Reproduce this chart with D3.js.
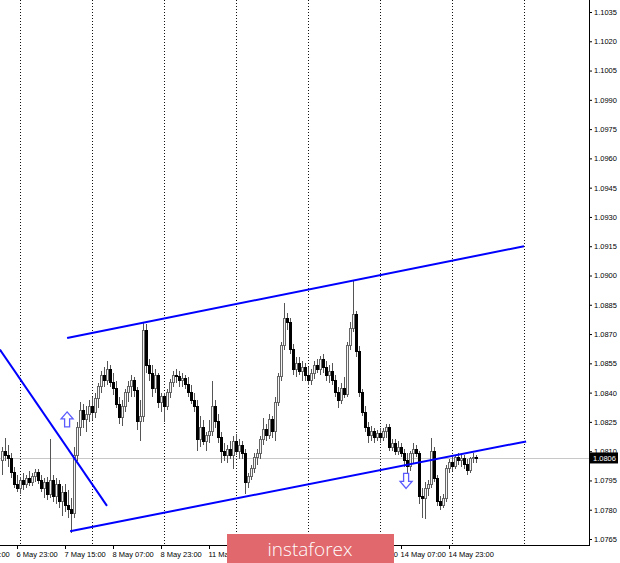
<!DOCTYPE html>
<html><head><meta charset="utf-8">
<script src="https://cdn.jsdelivr.net/npm/d3@7"></script>
<style>body{margin:0;background:#fff}svg{display:block}</style>
</head><body>
<svg id="c" width="620" height="563"></svg>
<script>
// EURUSD H1 bars, starting 6 May 18:00
const opens = [
1.0805,1.0810,1.0808,1.0806,1.0799,1.0793,1.0791,1.0795,1.0793,1.0796,
1.0794,1.0797,1.0799,1.0795,1.0791,1.0794,1.0788,1.0795,1.0787,1.0793,
1.0784,1.0789,1.0782,1.0780,1.0778,1.0808,1.0822,1.0831,1.0826,1.0829,
1.0833,1.0830,1.0837,1.0843,1.0849,1.0846,1.0852,1.0845,1.0842,1.0834,
1.0827,1.0833,1.0840,1.0843,1.0846,1.0841,1.0825,1.0828,1.0872,1.0854,
1.0850,1.0842,1.0849,1.0835,1.0838,1.0833,1.0840,1.0845,1.0849,1.0848,
1.0846,1.0847,1.0844,1.0840,1.0836,1.0833,1.0816,1.0822,1.0815,1.0818,
1.0820,1.0833,1.0825,1.0817,1.0810,1.0808,1.0811,1.0808,1.0815,1.0810,
1.0813,1.0809,1.0794,1.0797,1.0801,1.0807,1.0809,1.0816,1.0821,1.0818,
1.0826,1.0820,1.0835,1.0848,1.0864,1.0878,1.0876,1.0862,1.0852,1.0855,
1.0851,1.0853,1.0849,1.0846,1.0850,1.0854,1.0852,1.0857,1.0853,1.0849,
1.0851,1.0846,1.0840,1.0836,1.0842,1.0839,1.0864,1.0873,1.0880,1.0861,
1.0840,1.0830,1.0822,1.0818,1.0820,1.0817,1.0819,1.0817,1.0820,1.0822,
1.0812,1.0814,1.0810,1.0812,1.0809,1.0805,1.0802,1.0809,1.0811,1.0809,
1.0787,1.0786,1.0791,1.0793,1.0810,1.0796,1.0784,1.0782,1.0786,1.0801,
1.0804,1.0802,1.0807,1.0805,1.0806,1.0803,1.0800,1.0806,1.0807];
const highs = [
1.0812,1.0817,1.0813,1.0809,1.0802,1.0798,1.0797,1.0799,1.0798,1.0800,
1.0799,1.0801,1.0801,1.0798,1.0796,1.0797,1.0816,1.0798,1.0796,1.0795,
1.0792,1.0793,1.0790,1.0786,1.0812,1.0825,1.0835,1.0834,1.0833,1.0836,
1.0838,1.0840,1.0845,1.0851,1.0853,1.0856,1.0854,1.0850,1.0846,1.0838,
1.0836,1.0842,1.0846,1.0849,1.0848,1.0843,1.0836,1.0876,1.0875,1.0857,
1.0854,1.0852,1.0850,1.0840,1.0840,1.0842,1.0847,1.0851,1.0852,1.0851,
1.0850,1.0849,1.0848,1.0844,1.0840,1.0836,1.0828,1.0826,1.0820,1.0826,
1.0846,1.0836,1.0829,1.0820,1.0814,1.0813,1.0815,1.0818,1.0819,1.0816,
1.0815,1.0811,1.0799,1.0803,1.0809,1.0811,1.0818,1.0827,1.0824,1.0829,
1.0828,1.0838,1.0850,1.0866,1.0886,1.0881,1.0878,1.0865,1.0858,1.0858,
1.0856,1.0855,1.0853,1.0852,1.0856,1.0857,1.0859,1.0860,1.0856,1.0854,
1.0855,1.0849,1.0843,1.0845,1.0848,1.0866,1.0876,1.0897,1.0882,1.0864,
1.0842,1.0833,1.0825,1.0823,1.0822,1.0821,1.0822,1.0822,1.0824,1.0824,
1.0816,1.0816,1.0815,1.0814,1.0811,1.0809,1.0810,1.0814,1.0813,1.0810,
1.0791,1.0794,1.0795,1.0817,1.0812,1.0798,1.0787,1.0788,1.0803,1.0806,
1.0807,1.0808,1.0809,1.0808,1.0808,1.0806,1.0807,1.0809,1.0808];
const lows = [
1.0798,1.0805,1.0802,1.0796,1.0791,1.0789,1.0788,1.0790,1.0791,1.0792,
1.0792,1.0794,1.0793,1.0789,1.0786,1.0785,1.0786,1.0784,1.0783,1.0781,
1.0777,1.0779,1.0776,1.0768,1.0776,1.0805,1.0818,1.0822,1.0820,1.0825,
1.0826,1.0827,1.0832,1.0840,1.0843,1.0844,1.0843,1.0839,1.0832,1.0824,
1.0823,1.0830,1.0835,1.0838,1.0838,1.0821,1.0815,1.0825,1.0850,1.0846,
1.0838,1.0840,1.0832,1.0830,1.0825,1.0831,1.0837,1.0843,1.0845,1.0843,
1.0843,1.0842,1.0838,1.0834,1.0830,1.0810,1.0812,1.0813,1.0810,1.0814,
1.0818,1.0822,1.0814,1.0804,1.0805,1.0804,1.0806,1.0801,1.0808,1.0806,
1.0806,1.0788,1.0791,1.0795,1.0799,1.0803,1.0806,1.0813,1.0815,1.0816,
1.0817,1.0815,1.0833,1.0846,1.0862,1.0872,1.0860,1.0849,1.0848,1.0849,
1.0846,1.0846,1.0844,1.0844,1.0847,1.0850,1.0849,1.0850,1.0846,1.0845,
1.0844,1.0838,1.0832,1.0834,1.0837,1.0838,1.0862,1.0871,1.0858,1.0838,
1.0828,1.0820,1.0814,1.0815,1.0814,1.0815,1.0814,1.0815,1.0817,1.0810,
1.0810,1.0808,1.0808,1.0807,1.0802,1.0796,1.0800,1.0804,1.0807,1.0783,
1.0776,1.0775,1.0787,1.0791,1.0794,1.0782,1.0780,1.0781,1.0784,1.0799,
1.0800,1.0801,1.0803,1.0802,1.0801,1.0798,1.0799,1.0804,1.0804];
const closes = [
1.0810,1.0808,1.0806,1.0799,1.0793,1.0791,1.0795,1.0793,1.0796,1.0794,
1.0797,1.0799,1.0795,1.0791,1.0794,1.0788,1.0795,1.0787,1.0793,1.0784,
1.0789,1.0782,1.0780,1.0778,1.0808,1.0822,1.0831,1.0826,1.0829,1.0833,
1.0830,1.0837,1.0843,1.0849,1.0846,1.0852,1.0845,1.0842,1.0834,1.0827,
1.0833,1.0840,1.0843,1.0846,1.0841,1.0825,1.0828,1.0872,1.0854,1.0850,
1.0842,1.0849,1.0835,1.0838,1.0833,1.0840,1.0845,1.0849,1.0848,1.0846,
1.0847,1.0844,1.0840,1.0836,1.0833,1.0816,1.0822,1.0815,1.0818,1.0820,
1.0833,1.0825,1.0817,1.0810,1.0808,1.0811,1.0808,1.0815,1.0810,1.0813,
1.0809,1.0794,1.0797,1.0801,1.0807,1.0809,1.0816,1.0821,1.0818,1.0826,
1.0820,1.0835,1.0848,1.0864,1.0878,1.0876,1.0862,1.0852,1.0855,1.0851,
1.0853,1.0849,1.0846,1.0850,1.0854,1.0852,1.0857,1.0853,1.0849,1.0851,
1.0846,1.0840,1.0836,1.0842,1.0839,1.0864,1.0873,1.0880,1.0861,1.0840,
1.0830,1.0822,1.0818,1.0820,1.0817,1.0819,1.0817,1.0820,1.0822,1.0812,
1.0814,1.0810,1.0812,1.0809,1.0805,1.0802,1.0809,1.0811,1.0809,1.0787,
1.0786,1.0791,1.0793,1.0810,1.0796,1.0784,1.0782,1.0786,1.0801,1.0804,
1.0802,1.0807,1.0805,1.0806,1.0803,1.0800,1.0806,1.0807,1.0806];

const priceTicks = [1.0765,1.0780,1.0795,1.0810,1.0825,1.0840,1.0855,1.0870,1.0885,
  1.0900,1.0915,1.0930,1.0945,1.0960,1.0975,1.0990,1.1005,1.1020,1.1035];
const timeTickBars = [-11,5,21,37,53,69,85,101,117,133,149];
const timeTickLabels = ["6 May 07:00","6 May 23:00","7 May 15:00","8 May 07:00","8 May 23:00",
  "11 May 15:00","12 May 07:00","12 May 23:00","13 May 15:00","14 May 07:00","14 May 23:00"];
const daySeparatorBars = [6,30,54,78,102,126,150,174];
const lastPrice = 1.0806;
// trend lines: [barIndex, price]
const channelUpper = [[21.7,1.0868],[174,1.0915]];
const channelLower = [[22.7,1.0769],[174.7,1.0815]];
const downTrend = [[-0.7,1.0862],[35,1.0782]];
const arrowsUp = [[21.7,1.0826]];
const arrowsDown = [[134.7,1.0795]];

const svg = d3.select("#c");
const W = 620, H = 563;
const plotRight = 589, plotBottom = 545;
const x = d3.scaleLinear().domain([0,195]).range([2,587]);
const y = d3.scaleLinear().domain([1.0765,1.1035]).range([539,12]);
const FONT = "'Liberation Sans', Arial, sans-serif";

svg.append("rect").attr("width",W).attr("height",H).attr("fill","#fff");

// day separators (dotted)
svg.append("g").selectAll("line").data(daySeparatorBars).join("line")
  .attr("x1",d=>Math.round(x(d))+0.5).attr("x2",d=>Math.round(x(d))+0.5)
  .attr("y1",0).attr("y2",plotBottom)
  .attr("stroke","#111").attr("stroke-width",1).attr("stroke-dasharray","1,2");

// last price line
svg.append("line").attr("x1",0).attr("x2",plotRight).attr("y1",Math.round(y(lastPrice))-0.5)
  .attr("y2",Math.round(y(lastPrice))-0.5).attr("stroke","#c8c8c8").attr("stroke-width",1);

// candles
const bars = d3.range(closes.length);
const g = svg.append("g").attr("shape-rendering","crispEdges");
g.selectAll("line.w").data(bars).join("line").attr("class","w")
  .attr("x1",i=>Math.round(x(i))+0.5).attr("x2",i=>Math.round(x(i))+0.5)
  .attr("y1",i=>y(highs[i])).attr("y2",i=>y(lows[i]))
  .attr("stroke","#555").attr("stroke-width",1);
g.selectAll("rect.b").data(bars).join("rect").attr("class","b")
  .attr("x",i=>Math.round(x(i))-0.5)
  .attr("width",2)
  .attr("y",i=>Math.min(y(opens[i]),y(closes[i])))
  .attr("height",i=>Math.max(1,Math.abs(y(opens[i])-y(closes[i]))))
  .attr("fill",i=>closes[i]<opens[i]?"#000":"#f4f4f4")
  .attr("stroke",i=>closes[i]<opens[i]?"#000":"#666")
  .attr("stroke-width",1);

// trend lines
const lineGen = d3.line().x(d=>x(d[0])).y(d=>y(d[1]));
[channelUpper, channelLower, downTrend].forEach(l=>{
  svg.append("path").attr("d",lineGen(l)).attr("fill","none")
    .attr("stroke","#0000ff").attr("stroke-width",2);
});

// arrows
const upArrow = "M0,-8 L6,-1 L2.5,-1 L2.5,7 L-2.5,7 L-2.5,-1 L-6,-1 Z";
svg.selectAll("path.au").data(arrowsUp).join("path").attr("class","au")
  .attr("d",upArrow).attr("transform",d=>`translate(${x(d[0])},${y(d[1])})`)
  .attr("fill","#fff").attr("stroke","#5a5aff").attr("stroke-width",1.3);
svg.selectAll("path.ad").data(arrowsDown).join("path").attr("class","ad")
  .attr("d",upArrow).attr("transform",d=>`translate(${x(d[0])},${y(d[1])}) scale(1,-1)`)
  .attr("fill","#fff").attr("stroke","#5a5aff").attr("stroke-width",1.3);

// right price axis
const ya = svg.append("g").attr("transform",`translate(${plotRight},0)`)
  .call(d3.axisRight(y).tickValues(priceTicks).tickSize(3).tickPadding(2).tickFormat(d3.format(".4f")));
ya.select(".domain").remove();
ya.selectAll("line").attr("stroke","#000");
ya.selectAll("text").attr("font-family",FONT).attr("font-size",7.5).attr("fill","#000");
svg.append("line").attr("x1",plotRight+0.5).attr("x2",plotRight+0.5).attr("y1",0).attr("y2",plotBottom+0.5)
  .attr("stroke","#000");

// last price label
const ly = y(lastPrice) - 1;
svg.append("rect").attr("x",plotRight+1).attr("y",ly-5.5).attr("width",28).attr("height",11).attr("fill","#000");
svg.append("text").attr("x",plotRight+4).attr("y",ly+3).attr("font-family",FONT).attr("font-size",7.5)
  .attr("fill","#fff").text(d3.format(".4f")(lastPrice));

// bottom time axis
const xa = svg.append("g").attr("transform",`translate(0,${plotBottom})`)
  .call(d3.axisBottom(x).tickValues(timeTickBars).tickSize(4).tickPadding(3)
    .tickFormat((d,i)=>timeTickLabels[i]));
xa.select(".domain").remove();
xa.selectAll("line").attr("stroke","#000");
xa.selectAll("text").attr("text-anchor","start").attr("dx",-1)
  .attr("font-family",FONT).attr("font-size",7.5).attr("fill","#000");
svg.append("line").attr("x1",0).attr("x2",plotRight+1).attr("y1",plotBottom+0.5).attr("y2",plotBottom+0.5)
  .attr("stroke","#000");

// watermark logo
svg.append("rect").attr("x",227).attr("y",534).attr("width",167).attr("height",29).attr("fill","#e1686c");
svg.append("text").attr("x",310).attr("y",556).attr("text-anchor","middle")
  .attr("font-family","'Open Sans', Lato, sans-serif").attr("font-weight",300).attr("font-size",19).attr("fill","#fff")
  .text("instaforex");
</script>
</body></html>
